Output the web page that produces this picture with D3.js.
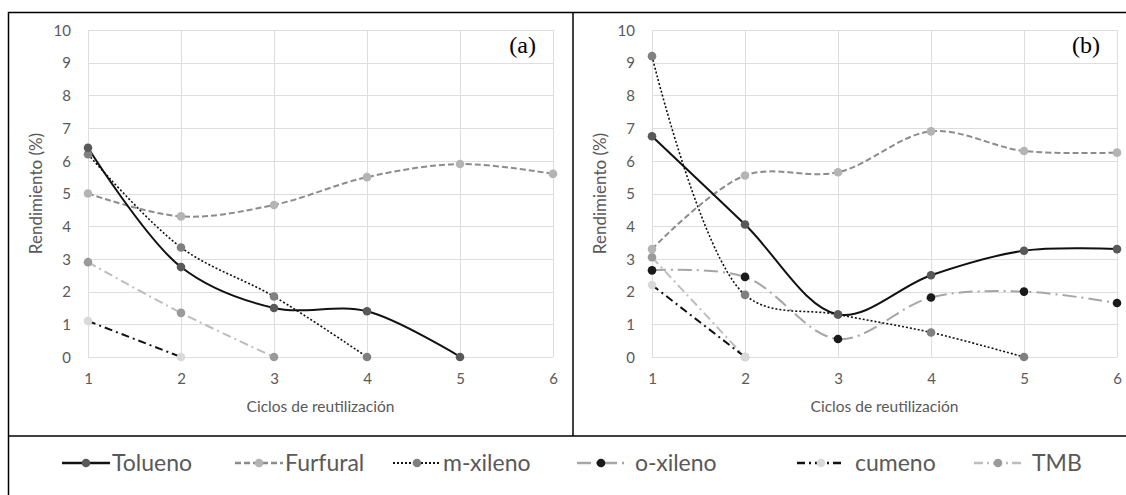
<!DOCTYPE html>
<html>
<head>
<meta charset="utf-8">
<script src="https://cdn.jsdelivr.net/npm/d3@7"></script>
<style>
  body { margin: 0; background: #fff; }
  svg { display: block; }
</style>
</head>
<body>
<svg id="chart" width="1126" height="495"></svg>
<script>
// ciclos de reutilizacion
var ciclos = [1, 2, 3, 4, 5, 6];
var yTicks = [0, 1, 2, 3, 4, 5, 6, 7, 8, 9, 10];

// panel (a)
var toluenoA = [6.4, 2.75, 1.5, 1.4, 0];
var furfuralA = [5.0, 4.3, 4.65, 5.5, 5.9, 5.6];
var mxilenoA = [6.2, 3.35, 1.85, 0];
var oxilenoA = [];
var cumenoA = [1.1, 0];
var tmbA = [2.9, 1.35, 0];

// panel (b)
var toluenoB = [6.75, 4.05, 1.3, 2.5, 3.25, 3.3];
var furfuralB = [3.3, 5.55, 5.65, 6.9, 6.3, 6.25];
var mxilenoB = [9.2, 1.9, 1.3, 0.75, 0];
var oxilenoB = [2.65, 2.45, 0.55, 1.82, 2.0, 1.65];
var cumenoB = [2.2, 0];
var tmbB = [3.05, 0];

var seriesNames = ["Tolueno", "Furfural", "m-xileno", "o-xileno", "cumeno", "TMB"];

// estilos de cada serie (linea, marcador)
var estilos = {
  "Tolueno":  { line: "#111", dash: null, width: 2, marker: "#595959" },
  "Furfural": { line: "#8c8c8c", dash: "6,3", width: 2, marker: "#b4b4b4" },
  "m-xileno": { line: "#111", dash: "2,2", width: 1.6, marker: "#808080" },
  "o-xileno": { line: "#a6a6a6", dash: "14,5,2,5", width: 2, marker: "#1a1a1a" },
  "cumeno":   { line: "#111", dash: "8,4,2,4", width: 2, marker: "#d9d9d9" },
  "TMB":      { line: "#bdbdbd", dash: "9,4,2,4", width: 2, marker: "#9a9a9a" }
};

var svg = d3.select("#chart");
var textGray = "#595959";
var font = "Lato, 'Open Sans', sans-serif";

// marcos
svg.append("rect").attr("x", 8.5).attr("y", 12.5).attr("width", 1130).attr("height", 500)
  .attr("fill", "none").attr("stroke", "#000").attr("stroke-width", 1.5);
svg.append("line").attr("x1", 573).attr("x2", 573).attr("y1", 12.5).attr("y2", 436)
  .attr("stroke", "#000").attr("stroke-width", 1.5);
svg.append("line").attr("x1", 8.5).attr("x2", 1126).attr("y1", 436).attr("y2", 436)
  .attr("stroke", "#000").attr("stroke-width", 1.5);

function drawPanel(x0, x1, label, data) {
  var x = d3.scaleLinear().domain([1, 6]).range([x0, x1]);
  var y = d3.scaleLinear().domain([0, 10]).range([357, 30]);
  var g = svg.append("g");

  // rejilla
  g.selectAll(".hgrid").data(yTicks).enter().append("line")
    .attr("x1", x0).attr("x2", x1)
    .attr("y1", d => Math.round(y(d)) + 0.5).attr("y2", d => Math.round(y(d)) + 0.5)
    .attr("stroke", "#dedede").attr("stroke-width", 1);
  g.selectAll(".vgrid").data(ciclos).enter().append("line")
    .attr("x1", d => Math.round(x(d)) + 0.5).attr("x2", d => Math.round(x(d)) + 0.5)
    .attr("y1", y(10)).attr("y2", y(0))
    .attr("stroke", "#dedede").attr("stroke-width", 1);

  // ejes
  var yAxis = g.append("g").attr("transform", "translate(" + (x0 - 17) + ",0)")
    .call(d3.axisLeft(y).tickValues(yTicks).tickFormat(d3.format("d")).tickSize(0).tickPadding(0));
  var xAxis = g.append("g").attr("transform", "translate(0," + (y(0) + 16) + ")")
    .call(d3.axisBottom(x).tickValues(ciclos).tickFormat(d3.format("d")).tickSize(0).tickPadding(0));
  [xAxis, yAxis].forEach(function (a) {
    a.select(".domain").remove();
    a.selectAll("text").attr("fill", textGray).attr("font-family", font).attr("font-size", 15);
  });
  yAxis.selectAll("text").attr("dy", "0.35em");
  xAxis.selectAll("text").attr("dy", "0.71em");

  g.append("text").attr("x", (x0 + x1) / 2).attr("y", 412).attr("text-anchor", "middle")
    .attr("fill", textGray).attr("font-family", font).attr("font-size", 15.5)
    .text("Ciclos de reutilización");
  g.append("text").attr("transform", "translate(" + (x0 - 46) + "," + y(5) + ") rotate(-90)")
    .attr("text-anchor", "middle").attr("fill", textGray)
    .attr("font-family", font).attr("font-size", 17)
    .text("Rendimiento (%)");

  g.append("text").attr("x", x1 - 17).attr("y", 53).attr("text-anchor", "end")
    .attr("font-family", "'Liberation Serif', serif").attr("font-size", 24).attr("fill", "#000")
    .text(label);

  var line = d3.line().x((d, i) => x(ciclos[i])).y(d => y(d)).curve(d3.curveCatmullRom.alpha(0.5));

  // lineas, en orden inverso para que Tolueno quede encima
  seriesNames.slice().reverse().forEach(function (name) {
    var vals = data[name];
    if (!vals.length) return;
    var st = estilos[name];
    g.append("path").datum(vals).attr("d", line)
      .attr("fill", "none").attr("stroke", st.line).attr("stroke-width", st.width)
      .attr("stroke-dasharray", st.dash);
  });
  seriesNames.slice().reverse().forEach(function (name) {
    var st = estilos[name];
    g.selectAll(null).data(data[name]).enter().append("circle")
      .attr("cx", (d, i) => x(ciclos[i])).attr("cy", d => y(d)).attr("r", 4.3)
      .attr("fill", st.marker);
  });
}

drawPanel(88, 553, "(a)", {
  "Tolueno": toluenoA, "Furfural": furfuralA, "m-xileno": mxilenoA,
  "o-xileno": oxilenoA, "cumeno": cumenoA, "TMB": tmbA
});
drawPanel(652, 1117, "(b)", {
  "Tolueno": toluenoB, "Furfural": furfuralB, "m-xileno": mxilenoB,
  "o-xileno": oxilenoB, "cumeno": cumenoB, "TMB": tmbB
});

// leyenda
var legendX = [62, 235, 393, 577, 797, 974];
var leg = svg.append("g").attr("transform", "translate(0,463)");
seriesNames.forEach(function (name, i) {
  var st = estilos[name];
  var item = leg.append("g").attr("transform", "translate(" + legendX[i] + ",0)");
  item.append("line").attr("x1", 0).attr("x2", 48).attr("y1", 0).attr("y2", 0)
    .attr("stroke", st.line).attr("stroke-width", st.width + 0.5).attr("stroke-dasharray", st.dash);
  item.append("circle").attr("cx", 24).attr("cy", 0).attr("r", 4.3).attr("fill", st.marker);
  item.append("text").attr("x", i < 3 ? 50 : 58)
    .attr("y", 0).attr("dy", "0.35em")
    .attr("fill", textGray).attr("font-family", font).attr("font-size", 23)
    .text(name);
});
</script>
</body>
</html>
